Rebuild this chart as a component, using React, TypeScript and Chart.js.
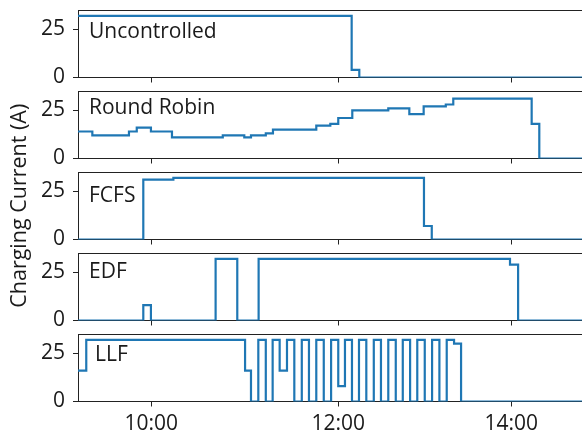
import React, { useEffect, useRef } from 'react';
import { Chart, registerables } from 'chart.js';

Chart.register(...registerables);

// ---- Data (x in minutes after 9:00 along the picture's time axis) ----
const X_MIN = 13;
const X_MAX = 336.4;
const X_TICK_VALUES = [60, 180, 291];
const X_TICK_LABELS = ['10:00', '12:00', '14:00'];
const Y_MIN = 0;
const Y_MAX = 35;
const Y_TICKS = [0, 25];
const Y_TITLE = 'Charging Current (A)';
const PANEL_NAMES = ['Uncontrolled', 'Round Robin', 'FCFS', 'EDF', 'LLF'];

const UNCONTROLLED_T = [13, 188.6, 193.5, 336.4];
const UNCONTROLLED_V = [32, 4, 0, 0];

const ROUND_ROBIN_T = [13, 22.2, 45.7, 50.7, 59.8, 73.3, 105.9, 119.7, 124.0, 133.5, 138.1, 165.9, 174.9, 180.0, 189.0, 212.1, 225.6, 234.8, 249.0, 253.8, 304.1, 309.0, 336.4];
const ROUND_ROBIN_V = [14, 12, 14, 16, 14, 11, 12, 11, 12, 13, 15, 17, 18, 21, 25, 26, 23, 27, 28, 31, 18, 0, 0];

const FCFS_T = [13, 54.9, 74.2, 235.0, 240.0, 336.4];
const FCFS_V = [0, 31, 32, 7, 0, 0];

const EDF_T = [13, 54.9, 59.8, 101.3, 115.2, 128.9, 290.2, 295.4, 336.4];
const EDF_V = [0, 8, 0, 32, 0, 32, 29, 0, 0];

const LLF_T = [13, 18.3, 120.2, 124.0, 128.7, 133.5, 137.9, 142.4, 147.1, 151.8, 156.6, 161.2, 165.9, 170.7, 175.4, 180.0, 184.3, 188.8, 193.3, 198.0, 202.8, 207.4, 212.1, 216.9, 221.4, 226.1, 230.7, 235.5, 240.2, 244.9, 249.6, 254.3, 258.8, 336.4];
const LLF_V = [16, 32, 16, 0, 32, 0, 32, 16, 32, 0, 32, 0, 32, 0, 32, 8, 32, 0, 32, 0, 32, 0, 32, 0, 32, 0, 32, 0, 32, 0, 32, 30, 0, 0];

const SERIES_T = [UNCONTROLLED_T, ROUND_ROBIN_T, FCFS_T, EDF_T, LLF_T];
const SERIES_V = [UNCONTROLLED_V, ROUND_ROBIN_V, FCFS_V, EDF_V, LLF_V];

// ---- Layout / style ----
const W = 582;
const H = 435;
const PANEL_TOPS = [10, 91, 172, 253, 334];
const PANEL_H = 67.5;
const X_AXIS_H = 33;
const AXIS_LEFT = 78;
const LABEL_OFFSETS = [
  { dx: 11, dy: 27.5 },
  { dx: 11, dy: 23 },
  { dx: 11, dy: 29.7 },
  { dx: 11, dy: 25.3 },
  { dx: 17, dy: 27.3 },
];
const LINE_COLOR = '#1f77b4';
const SPINE = '#222222';
const TEXT = '#1a1a1a';
const FONT_FAMILY = '"Open Sans", "Noto Sans", sans-serif';
const FONT_SIZE = 21;
const TITLE_FONT_SIZE = 21.5;

const panelPlugin = {
  id: 'panelDecor',
  afterDraw(chart: any, _args: any, opts: any) {
    const { ctx, chartArea } = chart;
    ctx.save();
    ctx.strokeStyle = SPINE;
    ctx.lineWidth = 1;
    const y = Math.round(chartArea.top) + 0.5;
    ctx.beginPath();
    ctx.moveTo(chartArea.left, y);
    ctx.lineTo(chartArea.right, y);
    ctx.stroke();
    ctx.font = `${FONT_SIZE}px ${FONT_FAMILY}`;
    ctx.fillStyle = TEXT;
    ctx.textBaseline = 'alphabetic';
    ctx.textAlign = 'left';
    ctx.fillText(opts.text, chartArea.left + opts.dx, chartArea.top + opts.dy);
    ctx.restore();
  },
};

function Panel({ index }: { index: number }) {
  const ref = useRef<HTMLCanvasElement | null>(null);
  useEffect(() => {
    if (!ref.current) return;
    const top = PANEL_TOPS[index];
    const bottom = top + PANEL_H;
    const isLast = index === PANEL_NAMES.length - 1;
    const font = { family: FONT_FAMILY, size: FONT_SIZE };
    const T = SERIES_T[index];
    const V = SERIES_V[index];
    const chart = new Chart(ref.current, {
      type: 'line',
      data: {
        datasets: [
          {
            data: T.map((t, k) => ({ x: t, y: V[k] })),
            stepped: 'before',
            borderColor: LINE_COLOR,
            borderWidth: 2.2,
            pointRadius: 0,
            fill: false,
          },
        ],
      },
      plugins: [panelPlugin],
      options: {
        animation: false,
        responsive: false,
        events: [],
        layout: {
          padding: { top, bottom: H - bottom - X_AXIS_H, left: 0, right: 0 },
        },
        plugins: {
          legend: { display: false },
          tooltip: { enabled: false },
          panelDecor: { text: PANEL_NAMES[index], ...LABEL_OFFSETS[index] },
        } as any,
        scales: {
          x: {
            type: 'linear',
            min: X_MIN,
            max: X_MAX,
            afterBuildTicks: (s: any) => {
              s.ticks = X_TICK_VALUES.map((v) => ({ value: v }));
            },
            afterFit: (s: any) => {
              s.height = X_AXIS_H;
              s.paddingLeft = 0;
              s.paddingRight = 0;
            },
            ticks: {
              display: isLast,
              autoSkip: false,
              maxRotation: 0,
              padding: 5,
              font,
              color: TEXT,
              callback: (_v: any, idx: number) => X_TICK_LABELS[idx],
            },
            grid: { drawOnChartArea: false, drawTicks: true, tickLength: 5, color: SPINE, lineWidth: 1 },
            border: { display: true, color: SPINE, width: 1 },
          },
          y: {
            type: 'linear',
            min: Y_MIN,
            max: Y_MAX,
            afterBuildTicks: (s: any) => {
              s.ticks = Y_TICKS.map((v) => ({ value: v }));
            },
            afterFit: (s: any) => {
              s.width = AXIS_LEFT;
              s.paddingTop = 0;
              s.paddingBottom = 0;
            },
            ticks: {
              autoSkip: false,
              padding: 8,
              font,
              color: TEXT,
              callback: (v: any) => String(v),
            },
            grid: { drawOnChartArea: false, drawTicks: true, tickLength: 5, color: SPINE, lineWidth: 1 },
            border: { display: true, color: SPINE, width: 1 },
            title: {
              display: index === 2,
              text: Y_TITLE,
              font: { family: FONT_FAMILY, size: TITLE_FONT_SIZE },
              color: TEXT,
              padding: { top: 7, bottom: 0 },
            },
          },
        },
      } as any,
    });
    return () => chart.destroy();
  }, [index]);
  return (
    <canvas
      ref={ref}
      width={W}
      height={H}
      style={{ position: 'absolute', left: 0, top: 0, width: W, height: H }}
    />
  );
}

export default function App() {
  return (
    <div style={{ position: 'fixed', left: 0, top: 0, width: W, height: H, background: '#ffffff', overflow: 'hidden' }}>
      {PANEL_NAMES.map((_, i) => (
        <Panel key={i} index={i} />
      ))}
    </div>
  );
}
